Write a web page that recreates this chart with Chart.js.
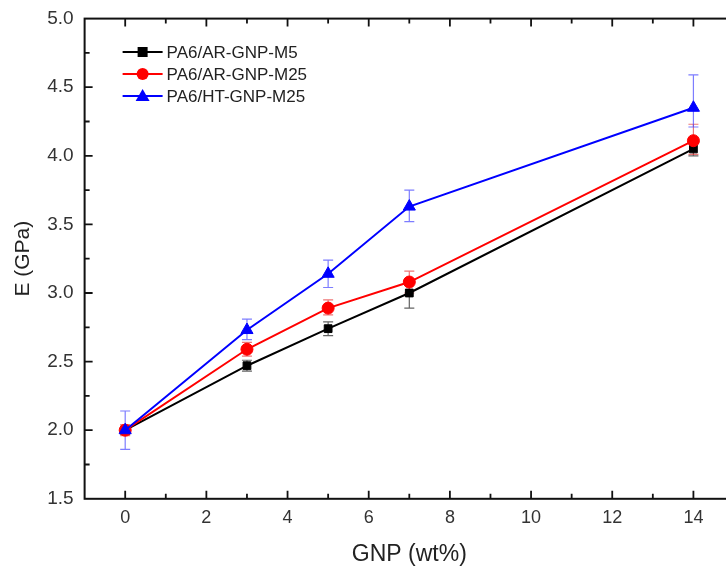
<!DOCTYPE html>
<html>
<head>
<meta charset="utf-8">
<script src="https://cdn.jsdelivr.net/npm/chart.js@4"></script>
<style>
  html, body { margin: 0; padding: 0; background: #fff; overflow: hidden; }
  #wrap { width: 745px; height: 569px; position: relative; }
</style>
</head>
<body>
<div id="wrap"><canvas id="chart"></canvas></div>
<script>
// ---- data ----
const gnp = [0, 3, 5, 7, 14];

const m5 = [2.0, 2.47, 2.74, 3.0, 4.05];
const m5Low = [1.97, 2.43, 2.69, 2.89, 4.00];
const m5High = [2.03, 2.51, 2.79, 3.10, 4.09];

const arM25 = [2.0, 2.59, 2.89, 3.08, 4.11];
const arM25Low = [1.96, 2.54, 2.84, 3.00, 4.01];
const arM25High = [2.04, 2.64, 2.95, 3.16, 4.23];

const htM25 = [2.0, 2.73, 3.14, 3.63, 4.35];
const htM25Low = [1.86, 2.66, 3.04, 3.52, 4.21];
const htM25High = [2.14, 2.81, 3.24, 3.75, 4.59];

const seriesLabels = ['PA6/AR-GNP-M5', 'PA6/AR-GNP-M25', 'PA6/HT-GNP-M25'];
const xTicks = [0, 2, 4, 6, 8, 10, 12, 14];
const yTicks = [1.5, 2.0, 2.5, 3.0, 3.5, 4.0, 4.5, 5.0];

const font = "'Liberation Sans', Arial, sans-serif";

function pts(ys) { return gnp.map((x, i) => ({ x: x, y: ys[i] })); }

// error bars, drawn under the markers
const errorBars = {
  id: 'errorBars',
  beforeDatasetsDraw(chart) {
    const ctx = chart.ctx, xs = chart.scales.x, ys = chart.scales.y;
    chart.data.datasets.forEach(ds => {
      ctx.save();
      ctx.strokeStyle = ds.errColor;
      ctx.lineWidth = 1.2;
      gnp.forEach((x, i) => {
        const px = xs.getPixelForValue(x);
        const lo = ys.getPixelForValue(ds.errLow[i]);
        const hi = ys.getPixelForValue(ds.errHigh[i]);
        ctx.beginPath();
        ctx.moveTo(px, lo); ctx.lineTo(px, hi);
        ctx.moveTo(px - 5, lo); ctx.lineTo(px + 5, lo);
        ctx.moveTo(px - 5, hi); ctx.lineTo(px + 5, hi);
        ctx.stroke();
      });
      ctx.restore();
    });
  }
};

// frame with inward ticks, plus the in-plot legend
const frame = {
  id: 'frame',
  afterDraw(chart) {
    const ctx = chart.ctx, a = chart.chartArea, xs = chart.scales.x, ys = chart.scales.y;
    ctx.save();
    ctx.strokeStyle = '#111';
    ctx.lineWidth = 2;
    ctx.strokeRect(a.left, a.top, a.right - a.left, a.bottom - a.top);
    ctx.lineWidth = 1.8;
    ctx.beginPath();
    for (let v = -1; v <= 15; v++) {
      if (v <= xs.min || v >= xs.max) continue;
      const len = v % 2 === 0 ? 8 : 5;
      const px = xs.getPixelForValue(v);
      ctx.moveTo(px, a.bottom); ctx.lineTo(px, a.bottom - len);
      ctx.moveTo(px, a.top); ctx.lineTo(px, a.top + len);
    }
    for (let v = 1.75; v <= 4.8; v += 0.25) {
      const len = Math.abs(v * 2 - Math.round(v * 2)) < 0.01 ? 8 : 5;
      const py = ys.getPixelForValue(v);
      ctx.moveTo(a.left, py); ctx.lineTo(a.left + len, py);
      ctx.moveTo(a.right, py); ctx.lineTo(a.right - len, py);
    }
    ctx.stroke();

    // legend
    const lx = a.left + 38, rowY = [52, 74, 96];
    chart.data.datasets.forEach((ds, i) => {
      const y = rowY[i];
      ctx.strokeStyle = ds.borderColor;
      ctx.lineWidth = 2;
      ctx.beginPath();
      ctx.moveTo(lx, y); ctx.lineTo(lx + 40, y);
      ctx.stroke();
      ctx.fillStyle = ds.borderColor;
      const cx = lx + 20;
      if (ds.pointStyle === 'rect') {
        ctx.fillRect(cx - 5, y - 5, 10, 10);
      } else if (ds.pointStyle === 'circle') {
        ctx.beginPath(); ctx.arc(cx, y, 6, 0, Math.PI * 2); ctx.fill();
      } else {
        ctx.beginPath();
        ctx.moveTo(cx, y - 7); ctx.lineTo(cx + 7, y + 5); ctx.lineTo(cx - 7, y + 5);
        ctx.closePath(); ctx.fill();
      }
      ctx.fillStyle = '#222';
      ctx.font = '17px ' + font;
      ctx.textBaseline = 'middle';
      ctx.fillText(ds.label, lx + 44, y + 1);
    });
    ctx.restore();
  }
};

new Chart(document.getElementById('chart'), {
  type: 'line',
  data: {
    datasets: [
      { label: seriesLabels[0], data: pts(m5), errLow: m5Low, errHigh: m5High,
        borderColor: '#000', backgroundColor: '#000', errColor: 'rgba(60,60,60,0.8)',
        pointStyle: 'rect', pointRadius: 5.5, order: 2 },
      { label: seriesLabels[1], data: pts(arM25), errLow: arM25Low, errHigh: arM25High,
        borderColor: '#ff0000', backgroundColor: '#ff0000', errColor: 'rgba(230,60,60,0.7)',
        pointStyle: 'circle', pointRadius: 6, order: 1 },
      { label: seriesLabels[2], data: pts(htM25), errLow: htM25Low, errHigh: htM25High,
        borderColor: '#0000ff', backgroundColor: '#0000ff', errColor: 'rgba(70,70,255,0.7)',
        pointStyle: 'triangle', pointRadius: 7, order: 0 }
    ]
  },
  options: {
    responsive: true,
    maintainAspectRatio: false,
    animation: false,
    layout: { padding: { top: 0, right: 11, bottom: 0, left: 7 } },
    elements: { line: { borderWidth: 2, tension: 0 } },
    plugins: { legend: { display: false }, tooltip: { enabled: false } },
    scales: {
      x: {
        type: 'linear', min: -1, max: 15,
        afterBuildTicks: s => { s.ticks = xTicks.map(v => ({ value: v })); },
        grid: { display: false, drawTicks: false, tickLength: 0 },
        border: { display: false },
        ticks: { color: '#333', font: { family: font, size: 18 }, padding: 8 },
        title: { display: true, text: 'GNP (wt%)', color: '#222', font: { family: font, size: 23 }, padding: { top: 4, bottom: 1 } }
      },
      y: {
        min: 1.5, max: 5.0,
        afterBuildTicks: s => { s.ticks = yTicks.map(v => ({ value: v })); },
        grid: { display: false, drawTicks: false, tickLength: 0 },
        border: { display: false },
        ticks: { color: '#333', font: { family: font, size: 19, lineHeight: 0.8 }, padding: 11, callback: v => v.toFixed(1) },
        title: { display: true, text: 'E (GPa)', color: '#222', font: { family: font, size: 21 }, padding: { top: 4, bottom: 0 } }
      }
    }
  },
  plugins: [errorBars, frame]
});
</script>
</body>
</html>
